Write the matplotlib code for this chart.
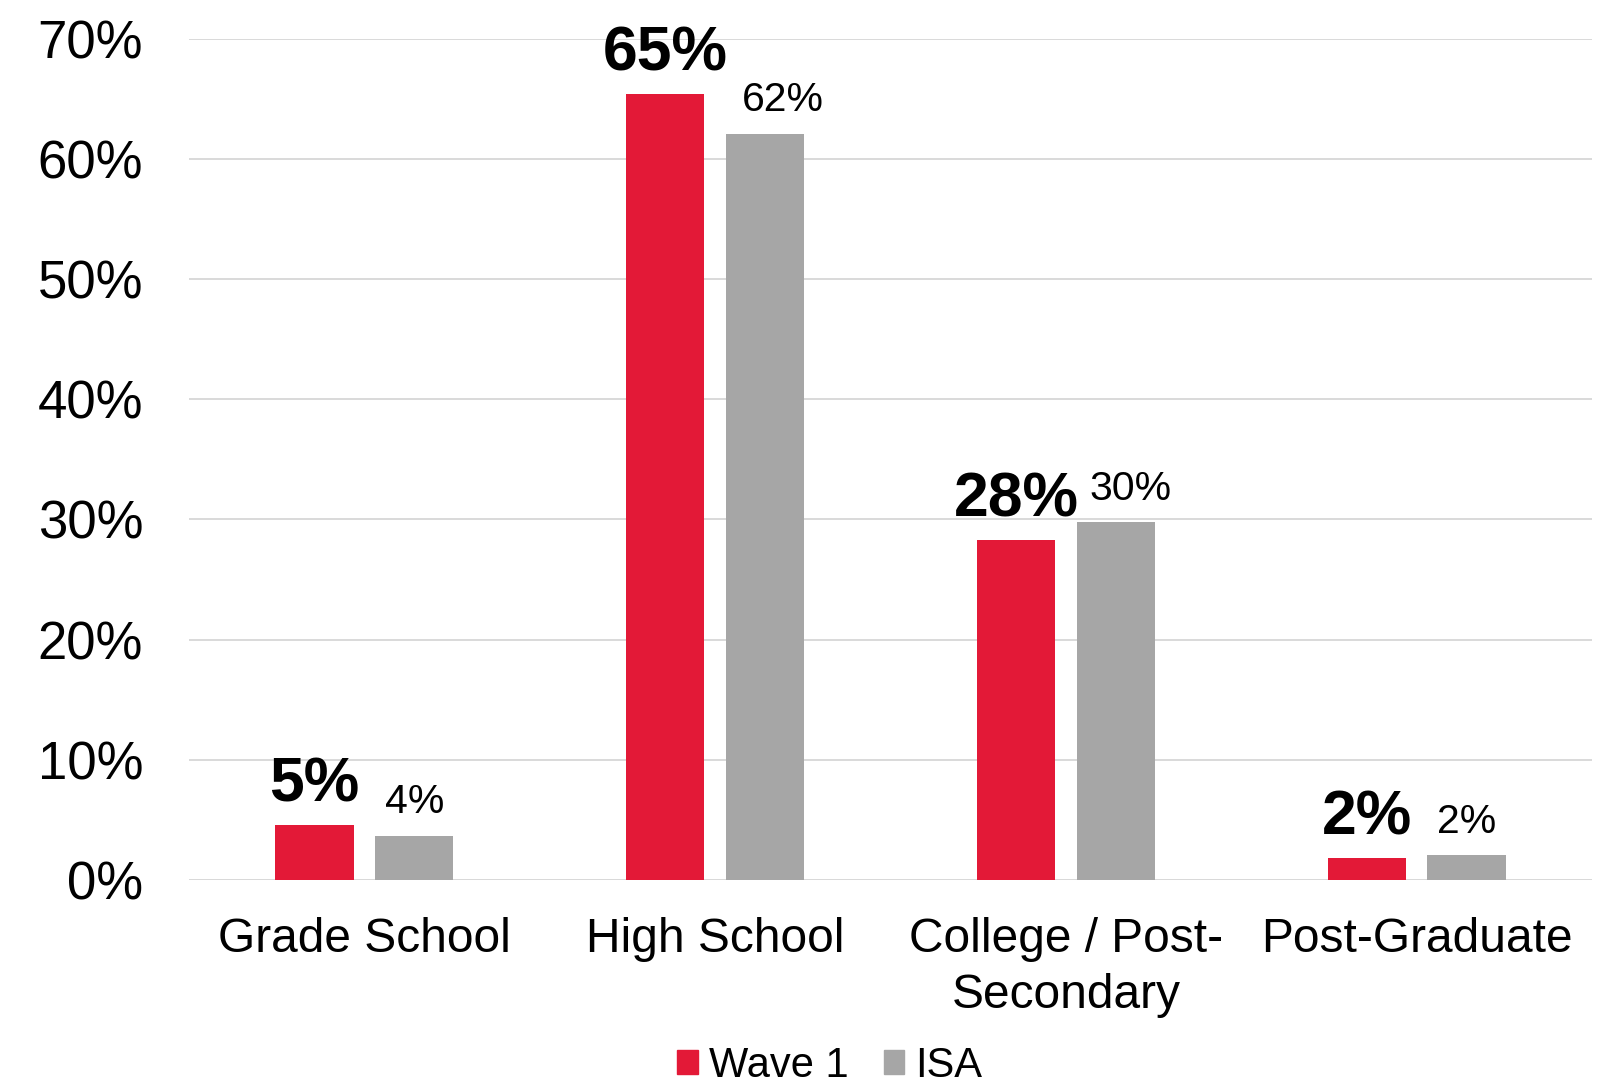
import matplotlib
matplotlib.use("Agg")
import matplotlib.pyplot as plt
from matplotlib.patches import Patch
import numpy as np

# Education level shares (%)
categories = ["Grade School", "High School", "College / Post-\nSecondary", "Post-Graduate"]
wave1 = [4.6, 65.4, 28.3, 1.8]
isa = [3.7, 62.1, 29.8, 2.1]
series_names = ["Wave 1", "ISA"]
y_ticks = [0, 10, 20, 30, 40, 50, 60, 70]

RED = "#E31937"
GREY = "#A6A6A6"
GRID = "#D9D9D9"

plt.rcParams["font.family"] = ["Liberation Sans", "DejaVu Sans"]

fig = plt.figure(figsize=(16.14, 10.84), dpi=100)
ax = fig.add_axes([0.1171, 0.1882, 0.8693, 0.7761])

x = np.arange(len(categories))
width = 0.223
offset = 0.142

bars_w = ax.bar(x - offset, wave1, width, color=RED, zorder=3)
bars_i = ax.bar(x + offset, isa, width, color=GREY, zorder=3)

ax.set_xlim(-0.5, len(categories) - 0.5)
ax.set_ylim(0, 70)
ax.set_yticks(y_ticks)
ax.set_yticklabels([f"{t}%" for t in y_ticks])
ax.set_xticks(x)
ax.set_xticklabels(categories, linespacing=1.3)

ax.tick_params(axis="y", length=0, labelsize=38, pad=33)
ax.tick_params(axis="x", length=0, labelsize=34.5, pad=27)

for s in ax.spines.values():
    s.set_visible(False)
ax.yaxis.grid(True, color=GRID, linewidth=1.4, zorder=0)
ax.set_axisbelow(True)
ax.axhline(0, color=GRID, linewidth=2.0, zorder=2)

# value labels: bold for Wave 1, regular for ISA (two ISA labels nudged right)
isa_nudge = [0, 13, 11, 0]
for rect, v in zip(bars_w, wave1):
    ax.annotate(f"{round(v):d}%", (rect.get_x() + rect.get_width() / 2, v),
                xytext=(0, 17), textcoords="offset points",
                ha="center", va="baseline", fontsize=45, fontweight="bold")
for rect, v, dx in zip(bars_i, isa, isa_nudge):
    ax.annotate(f"{round(v):d}%", (rect.get_x() + rect.get_width() / 2, v),
                xytext=(dx, 16), textcoords="offset points",
                ha="center", va="baseline", fontsize=29.5)

handles = [Patch(color=RED), Patch(color=GREY)]
fig.legend(handles, series_names, loc="lower center", bbox_to_anchor=(0.514, -0.036),
           ncol=2, frameon=False, fontsize=30, handlelength=0.5, handleheight=0.5,
           handletextpad=0.25, columnspacing=0.85)

fig.savefig("out.png", dpi=100, facecolor="white")
